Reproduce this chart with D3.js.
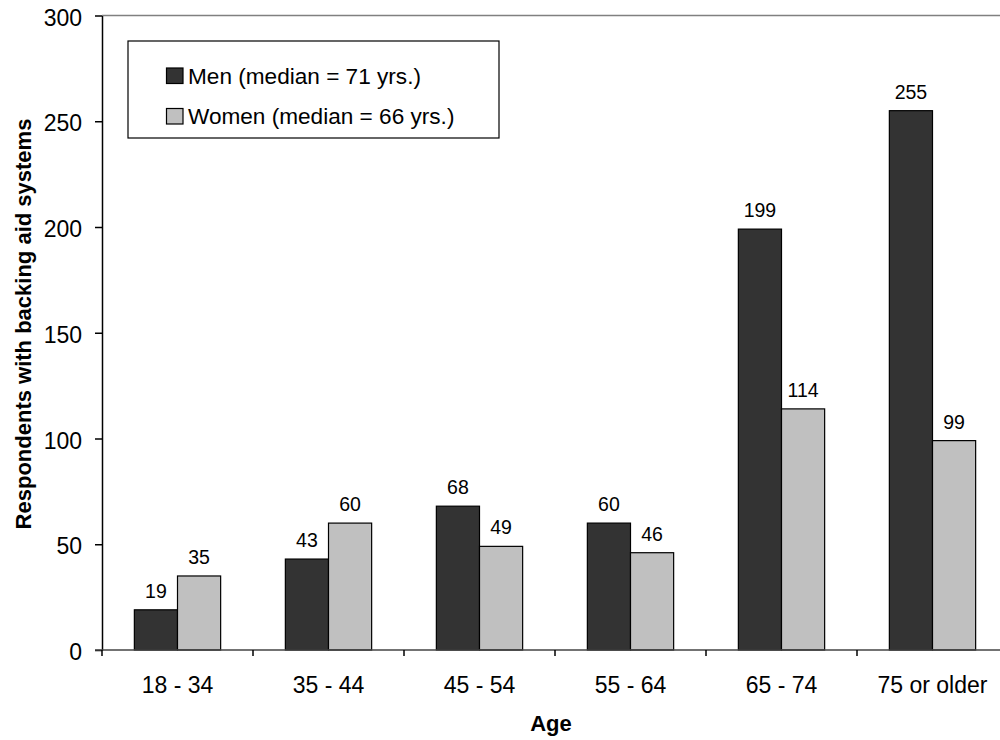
<!DOCTYPE html>
<html>
<head>
<meta charset="utf-8">
<script src="https://cdn.jsdelivr.net/npm/d3@7"></script>
<style>
  html, body { margin: 0; padding: 0; background: #fff; }
  svg { display: block; font-family: Arial, "Liberation Sans", sans-serif; }
</style>
</head>
<body>
<svg id="chart" width="1000" height="740"></svg>
<script>
const categories = ["18 - 34", "35 - 44", "45 - 54", "55 - 64", "65 - 74", "75 or older"];
const seriesNames = ["Men (median = 71 yrs.)", "Women (median = 66 yrs.)"];
const menValues = [19, 43, 68, 60, 199, 255];
const womenValues = [35, 60, 49, 46, 114, 99];
const yTicks = [0, 50, 100, 150, 200, 250, 300];
const colors = ["#333333", "#c0c0c0"];

const svg = d3.select("#chart");
const plotLeft = 102, plotRight = 1008, plotTop = 15.5, plotBottom = 650;

const x = d3.scaleBand().domain(categories).range([plotLeft, plotRight]).paddingInner(0).paddingOuter(0);
const xs = d3.scaleBand().domain([0, 1]).range([0, x.bandwidth()]).paddingInner(0).paddingOuter(0.75);
const y = d3.scaleLinear().domain([0, 300]).range([plotBottom, plotTop]);

// top border
svg.append("line").attr("x1", plotLeft).attr("x2", 1000).attr("y1", plotTop).attr("y2", plotTop)
  .attr("stroke", "#808080").attr("stroke-width", 1.5);

// bars
const data = categories.map((c, i) => ({c, vals: [menValues[i], womenValues[i]]}));
const g = svg.append("g");
data.forEach(d => {
  d.vals.forEach((v, s) => {
    g.append("rect")
      .attr("x", x(d.c) + xs(s))
      .attr("y", y(v))
      .attr("width", xs.bandwidth())
      .attr("height", y(0) - y(v))
      .attr("fill", colors[s])
      .attr("stroke", "#000").attr("stroke-width", 1.2);
    g.append("text")
      .attr("x", x(d.c) + xs(s) + xs.bandwidth() / 2)
      .attr("y", y(v) - 12)
      .attr("text-anchor", "middle")
      .attr("font-size", 19.5)
      .attr("fill", "#000")
      .text(v);
  });
});

// y axis
const yAxis = d3.axisLeft(y).tickValues(yTicks).tickSize(7).tickSizeOuter(0).tickPadding(13);
const ya = svg.append("g").attr("transform", `translate(${plotLeft},0)`).call(yAxis);
ya.select(".domain").attr("stroke", "#000").attr("stroke-width", 1.5);
ya.selectAll(".tick line").attr("stroke", "#000").attr("stroke-width", 1.5);
ya.selectAll(".tick text").attr("font-size", 23).attr("fill", "#000")
  .attr("font-family", "Arial, 'Liberation Sans', sans-serif").attr("dy", "0.42em");

// x axis
svg.append("line").attr("x1", plotLeft - 7).attr("x2", 1000).attr("y1", plotBottom).attr("y2", plotBottom)
  .attr("stroke", "#444").attr("stroke-width", 1.5);
const boundaries = d3.range(categories.length + 1).map(i => plotLeft + i * x.step());
svg.selectAll(".xt").data(boundaries).enter().append("line")
  .attr("x1", d => d).attr("x2", d => d).attr("y1", plotBottom).attr("y2", plotBottom + 6)
  .attr("stroke", "#000").attr("stroke-width", 1.5);
svg.selectAll(".xl").data(categories).enter().append("text")
  .attr("x", d => x(d) + x.bandwidth() / 2)
  .attr("y", 693)
  .attr("text-anchor", "middle")
  .attr("font-size", 23)
  .attr("fill", "#000")
  .text(d => d);

// axis titles
svg.append("text").attr("x", 551).attr("y", 731).attr("text-anchor", "middle")
  .attr("font-size", 22).attr("font-weight", "bold").text("Age");
svg.append("text").attr("transform", "translate(31,324) rotate(-90)").attr("text-anchor", "middle")
  .attr("font-size", 22).attr("font-weight", "bold").text("Respondents with backing aid systems");

// legend
const lg = svg.append("g");
lg.append("rect").attr("x", 128).attr("y", 41).attr("width", 371).attr("height", 97)
  .attr("fill", "#fff").attr("stroke", "#000").attr("stroke-width", 1.2);
const rowsY = [83.5, 124];
seriesNames.forEach((n, i) => {
  lg.append("rect").attr("x", 166.5).attr("y", rowsY[i] - 15.5).attr("width", 16.5).attr("height", 15.5)
    .attr("fill", colors[i]).attr("stroke", "#000").attr("stroke-width", 1.2);
  lg.append("text").attr("x", 188).attr("y", rowsY[i]).attr("font-size", 22.6).attr("fill", "#000").text(n);
});
</script>
</body>
</html>
